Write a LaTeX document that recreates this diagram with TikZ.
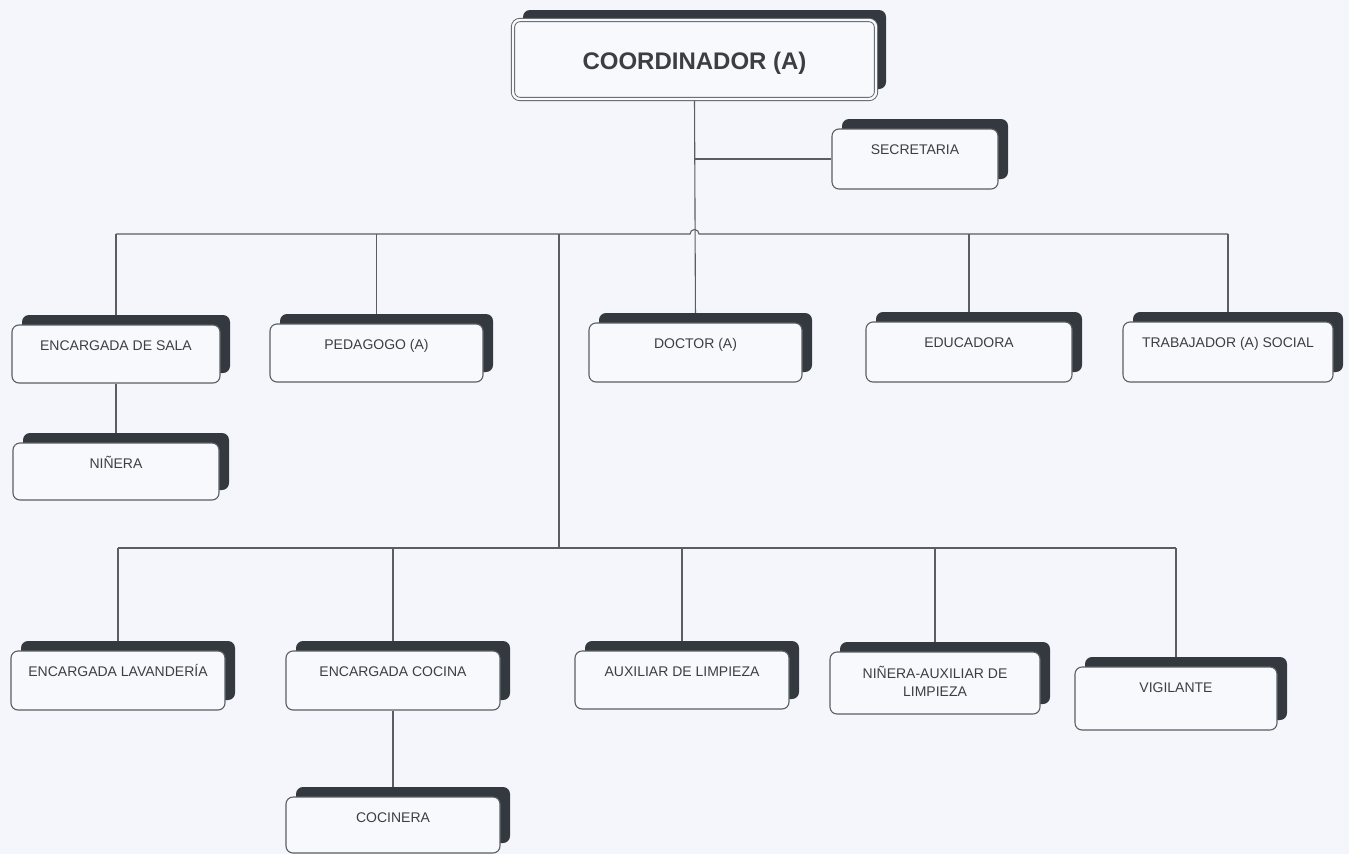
\documentclass[tikz,border=0pt]{standalone}
\usepackage{fontspec}
\setmainfont{Liberation Sans}
\usetikzlibrary{shadows,backgrounds,calc}
\definecolor{bg}{HTML}{F4F6FB}
\definecolor{boxfill}{HTML}{F8F9FD}
\definecolor{linec}{HTML}{5A5E62}
\definecolor{shad}{HTML}{33393E}
\definecolor{txtc}{HTML}{3C3F42}
\tikzset{
  orgbox/.style={draw=linec, line width=1.1pt, fill=boxfill, rounded corners=7pt, inner sep=0pt,
    general shadow={fill=shad, shadow xshift=10pt, shadow yshift=10pt}},
  lbl/.style={text=txtc, font=\fontsize{14}{16}\selectfont, inner sep=0pt},
  conn/.style={draw=linec, line width=1.1pt},
}
\newcommand\orgnode[6]{%
  \node[orgbox, minimum width={(#4-#2)*1pt}, minimum height={(#5-#3)*1pt}] (#1) at ({(#2+#4)/2},{(#3+#5)/2}) {};
  \node[lbl, anchor=base] (#1-t) at ([yshift=-26pt]#1.north) {#6};}
\begin{document}
\begin{tikzpicture}[x=1pt,y=-1pt]
\useasboundingbox (0,0) rectangle (1349,854);
% top node
\node[orgbox, line width=0.9pt, double=boxfill, double distance=2.4pt,
      minimum width=363pt, minimum height=79pt] (coord) at (694.5,59.5) {};
\node[lbl, anchor=base, font=\bfseries\fontsize{24}{28}\selectfont] (coord-t) at ([yshift=-50pt]coord.north) {COORDINADOR (A)};
\orgnode{secr}{832}{129}{998}{189}{SECRETARIA}
% first row
\orgnode{sala}{12}{325}{220}{383}{ENCARGADA DE SALA}
\orgnode{ped}{270}{324}{483}{382}{PEDAGOGO (A)}
\orgnode{doc}{589}{323}{802}{382}{DOCTOR (A)}
\orgnode{edu}{866}{322}{1072}{382}{EDUCADORA}
\orgnode{trab}{1123}{322}{1333}{382}{TRABAJADOR (A) SOCIAL}
\orgnode{nin}{13}{443}{219}{500}{NIÑERA}
% second row
\orgnode{lav}{11}{651}{225}{710}{ENCARGADA LAVANDERÍA}
\orgnode{coc}{286}{651}{500}{710}{ENCARGADA COCINA}
\orgnode{aux}{575}{651}{789}{709}{AUXILIAR DE LIMPIEZA}
\node[orgbox, minimum width=210pt, minimum height=62pt] (naux) at (935,683) {};
\node[lbl, anchor=base] (naux-t1) at ([yshift=-27.5pt]naux.north) {NIÑERA-AUXILIAR DE};
\node[lbl, anchor=base] (naux-t2) at ([yshift=-45pt]naux.north) {LIMPIEZA};
\orgnode{vig}{1075}{667}{1277}{730}{VIGILANTE}
\orgnode{cocn}{286}{797}{500}{853}{COCINERA}
% connectors
\coordinate (h1) at (0,234);
\coordinate (h2) at (0,548);
\coordinate (trunk) at (559,234);
\begin{pgfonlayer}{background}
\fill[bg] (0,0) rectangle (1349,854);
\draw[conn] (coord.south) -- (doc.north);
\draw[conn] (coord.south |- secr.west) -- (secr.west);
\draw[conn] (sala.north |- h1) -- ([xshift=-4.5pt]coord.south |- h1)
   arc[start angle=180, end angle=0, radius=4.5pt] -- (trab.north |- h1);
\draw[conn] (sala.north |- h1) -- (sala.north);
\draw[conn] (ped.north |- h1) -- (ped.north);
\draw[conn] (edu.north |- h1) -- (edu.north);
\draw[conn] (trab.north |- h1) -- (trab.north);
\draw[conn] (sala.south) -- (nin.north);
\draw[conn] (trunk) -- (trunk |- h2);
\draw[conn] (lav.north |- h2) -- (vig.north |- h2);
\draw[conn] (lav.north |- h2) -- (lav.north);
\draw[conn] (coc.north |- h2) -- (coc.north);
\draw[conn] (aux.north |- h2) -- (aux.north);
\draw[conn] (naux.north |- h2) -- (naux.north);
\draw[conn] (vig.north |- h2) -- (vig.north);
\draw[conn] (coc.south) -- (cocn.north);
\end{pgfonlayer}
\end{tikzpicture}
\end{document}
